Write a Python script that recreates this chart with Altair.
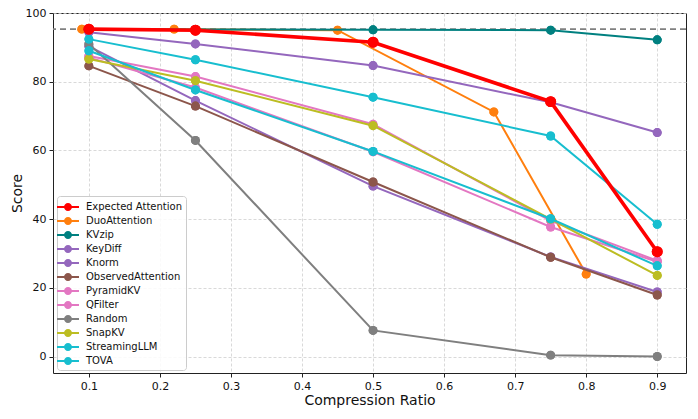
import altair as alt
import pandas as pd

methods = ["Expected Attention", "DuoAttention", "KVzip", "KeyDiff", "Knorm",
           "ObservedAttention", "PyramidKV", "QFilter", "Random", "SnapKV",
           "StreamingLLM", "TOVA"]
colors = ["#ff0000", "#ff7f0e", "#008080", "#9467bd", "#9467bd", "#8c564b",
          "#e377c2", "#e377c2", "#7f7f7f", "#bcbd22", "#17becf", "#17becf"]

ratios = [0.1, 0.25, 0.5, 0.75, 0.9]
duo_ratios = [0.09, 0.22, 0.45, 0.67, 0.8]

expected = [95.3, 95.0, 91.5, 74.2, 30.5]
duo = [95.3, 95.3, 95.0, 71.2, 24.0]
kvzip = [95.3, 95.2, 95.1, 95.0, 92.2]
keydiff = [94.4, 91.0, 84.7, 74.0, 65.2]
knorm = [90.3, 74.5, 49.6, 29.0, 18.8]
observed = [84.6, 72.9, 50.8, 28.9, 17.9]
pyramid = [87.5, 81.5, 67.6, 39.5, 27.9]
qfilter = [87.0, 78.3, 59.6, 37.7, 27.6]
random_ = [91.0, 62.9, 7.6, 0.4, 0.0]
snapkv = [86.6, 80.3, 67.2, 40.0, 23.6]
streaming = [89.0, 77.6, 59.7, 40.1, 26.4]
tova = [92.4, 86.4, 75.5, 64.2, 38.5]
baseline = 95.3

x_ticks = [0.1, 0.2, 0.3, 0.4, 0.5, 0.6, 0.7, 0.8, 0.9]
y_ticks = [0, 20, 40, 60, 80, 100]

series = {
    "Expected Attention": (ratios, expected),
    "DuoAttention": (duo_ratios, duo),
    "KVzip": (ratios, kvzip),
    "KeyDiff": (ratios, keydiff),
    "Knorm": (ratios, knorm),
    "ObservedAttention": (ratios, observed),
    "PyramidKV": (ratios, pyramid),
    "QFilter": (ratios, qfilter),
    "Random": (ratios, random_),
    "SnapKV": (ratios, snapkv),
    "StreamingLLM": (ratios, streaming),
    "TOVA": (ratios, tova),
}

rows = []
for m, (xs, ys) in series.items():
    for xv, yv in zip(xs, ys):
        rows.append({"method": m, "ratio": xv, "score": yv})
df = pd.DataFrame(rows)

sym_path = ("M-1.57,-0.14L1.57,-0.14L1.57,0.14L-1.57,0.14Z "
            "M-0.57,0A0.57,0.57 0 0,1 0.57,0A0.57,0.57 0 0,1 -0.57,0Z")

legend = alt.Legend(title=None, orient="none", legendX=4, legendY=183)

color = alt.Color("method:N", scale=alt.Scale(domain=methods, range=colors),
                  legend=legend)

xenc = alt.X("ratio:Q", scale=alt.Scale(domain=[0.0495, 0.9405], nice=False, zero=False),
             axis=alt.Axis(values=x_ticks, format=".1f", title="Compression Ratio"))
yenc = alt.Y("score:Q", scale=alt.Scale(domain=[-4.8, 100], nice=False, zero=False),
             axis=alt.Axis(values=y_ticks, title="Score"))

base = alt.Chart(df)

ref = alt.Chart(pd.DataFrame({"score": [baseline]})).mark_rule(
    color="#808080", strokeDash=[6, 4], strokeWidth=1.8
).encode(y=alt.Y("score:Q"))

layers = [ref]
draw_order = methods[1:] + methods[:1]
for m in draw_order:
    big = m == "Expected Attention"
    sub = base.transform_filter(alt.datum.method == m)
    layers.append(sub.mark_point(filled=True, shape="circle", opacity=1,
                                 size=120 if big else 80).encode(
        x=xenc, y=yenc, color=color))
    layers.append(sub.mark_line(strokeWidth=3.6 if big else 2.0).encode(
        x=xenc, y=yenc, color=color))
    layers.append(sub.mark_point(filled=True, shape="circle", opacity=1,
                                 size=120 if big else 80).encode(
        x=xenc, y=yenc, color=color))

chart = alt.layer(*layers).properties(
    width=633, height=360,
    autosize=alt.AutoSizeParams(type="none"),
    padding={"left": 45, "top": 5, "right": 4, "bottom": 45},
).configure_view(
    stroke="#222222", strokeWidth=1
).configure_axis(
    labelFont="DejaVu Sans", labelFontSize=11, labelColor="#111",
    titleFont="DejaVu Sans", titleFontSize=14, titleFontWeight="normal", titleColor="#111",
    grid=True, gridColor="#cfcfcf", gridDash=[3, 2], gridWidth=0.8,
    domain=False, tickColor="#222", tickSize=4, labelPadding=3,
).configure_axisY(
    titlePadding=1
).configure_axisX(
    titlePadding=2
).configure_legend(
    symbolType=sym_path, symbolSize=196, symbolStrokeWidth=0, symbolOpacity=1,
    labelFont="DejaVu Sans", labelFontSize=10, labelColor="#111",
    labelOffset=11, rowPadding=2, padding=4,
    fillColor="rgba(255,255,255,0.85)", strokeColor="#cccccc", cornerRadius=3,
    labelLimit=200,
)

chart.save("out.html", embed_options={"renderer": "svg", "actions": False})
